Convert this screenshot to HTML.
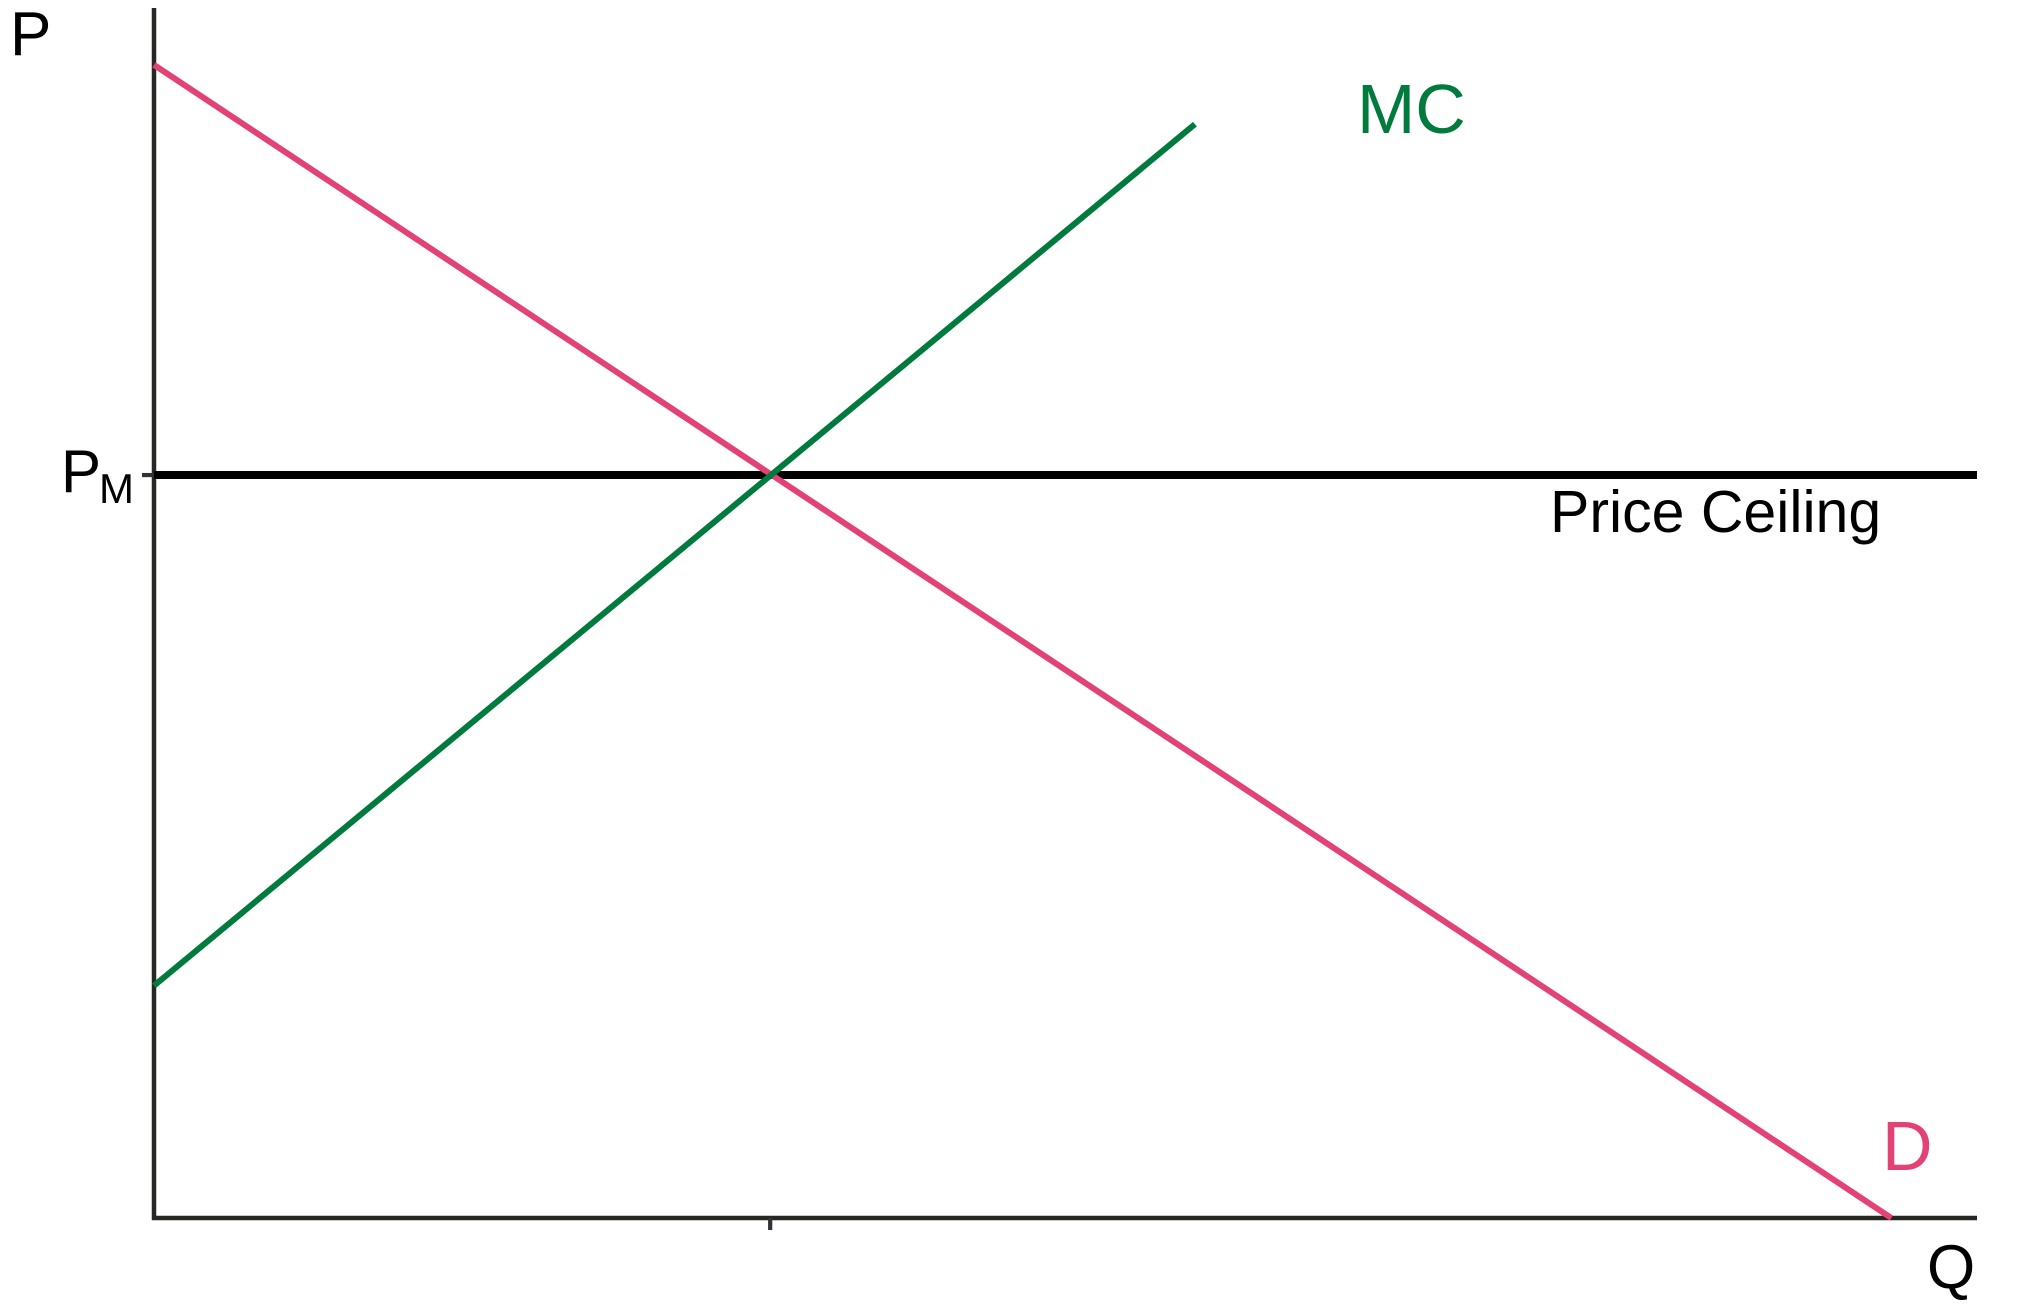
<!DOCTYPE html>
<html><head><meta charset="utf-8"><style>
html,body{margin:0;padding:0;background:#fff;}
svg{display:block;font-family:"Liberation Sans",sans-serif;}
</style></head><body>
<svg id="chart" width="2031" height="1309" viewBox="0 0 2031 1309" xmlns="http://www.w3.org/2000/svg"></svg>
<script>
const demandQ = [0, 95.3];
const demandP = [95.3, 0];
const mcQ = [0, 57.1];
const mcP = [19.2, 90.4];
const priceCeiling = [61.4];
const equilibriumQ = [33.8];
const yTickLabels = ["P", "M"];

const X0 = 154, X1 = 1977, Y0 = 1218, Y1 = 8;
const qMax = 100, pMax = 100;
function sx(q){ return X0 + (X1 - X0) * q / qMax; }
function sy(p){ return Y0 - (Y0 - Y1) * p / pMax; }

const svg = document.getElementById('chart');
const NS = 'http://www.w3.org/2000/svg';
function mk(tag, attrs){ const e = document.createElementNS(NS, tag); for (const k in attrs) e.setAttribute(k, attrs[k]); svg.appendChild(e); return e; }

let e;
e = mk('line', {x1: X0, y1: Y1, x2: X0, y2: Y0 + 2, stroke: '#262622', 'stroke-width': 4.5});


e = mk('line', {x1: X0 - 2, y1: Y0, x2: X1, y2: Y0, stroke: '#262622', 'stroke-width': 4.5});



e = mk('line', {x1: sx(equilibriumQ[0]), y1: Y0, x2: sx(equilibriumQ[0]), y2: Y0 + 12, stroke: '#333', 'stroke-width': 4.2});


e = mk('line', {x1: X0 - 12, y1: sy(priceCeiling[0]), x2: X0, y2: sy(priceCeiling[0]), stroke: '#333', 'stroke-width': 4.2});



e = mk('line', {x1: X0, y1: sy(priceCeiling[0]), x2: X1, y2: sy(priceCeiling[0]), stroke: '#000', 'stroke-width': 8});



e = mk('line', {x1: sx(demandQ[0]), y1: sy(demandP[0]), x2: sx(demandQ[1]), y2: sy(demandP[1]), stroke: '#e34275', 'stroke-width': 6});



e = mk('line', {x1: sx(mcQ[0]), y1: sy(mcP[0]), x2: sx(mcQ[1]), y2: sy(mcP[1]), stroke: '#007a3d', 'stroke-width': 6});



function txt(s, x, y, size, fill, name){
  const t = mk('text', {x: x, y: y, 'font-size': size, fill: fill});
  t.textContent = s;
  
  
  return t;
}
txt('P', 10, 55, 62, '#000', 'y-axis-title');
txt('Q', 1927, 1288, 62, '#000', 'x-axis-title');
txt('MC', 1357, 133, 70, '#007a3d', 'mc-label');
txt('D', 1882, 1170, 70, '#e34275', 'demand-label');
txt('Price Ceiling', 1550, 532, 59, '#000', 'price-ceiling-label');
txt(yTickLabels[0], 61, sy(priceCeiling[0]) + 17, 60, '#000', 'y-tick-label-p');
txt(yTickLabels[1], 99, sy(priceCeiling[0]) + 28, 42, '#000', 'y-tick-label-m-subscript');
</script>
</body></html>
